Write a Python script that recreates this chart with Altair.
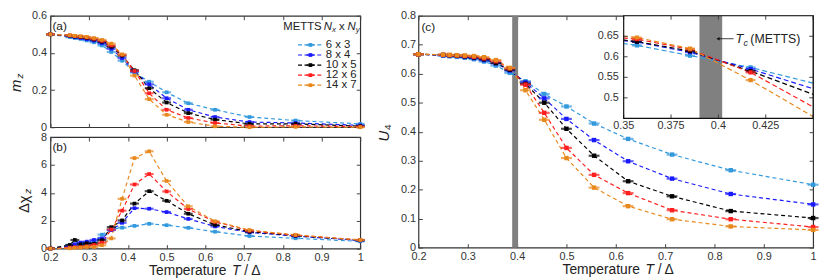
import altair as alt
import pandas as pd

FONT = "Liberation Sans"
TXT = "#222222"

# ---------------- data ----------------
T = [0.2, 0.25, 0.263, 0.278, 0.294, 0.3125, 0.333, 0.357, 0.385, 0.417,
     0.455, 0.5, 0.556, 0.625, 0.714, 0.833, 1.0]
SERIES = ["6 x 3", "8 x 4", "10 x 5", "12 x 6", "14 x 7"]
COLORS = ["#3399DD", "#1A1AFF", "#000000", "#FF1F1F", "#E8891E"]

mz_6x3 = [0.5, 0.485, 0.48, 0.475, 0.467, 0.457, 0.44, 0.405, 0.358, 0.295, 0.245, 0.188, 0.129, 0.094, 0.055, 0.036, 0.018]
mz_8x4 = [0.5, 0.49, 0.485, 0.48, 0.474, 0.466, 0.452, 0.422, 0.372, 0.3, 0.231, 0.156, 0.094, 0.055, 0.028, 0.023, 0.01]
mz_10x5 = [0.5, 0.493, 0.488, 0.485, 0.48, 0.472, 0.46, 0.433, 0.385, 0.307, 0.21, 0.133, 0.076, 0.041, 0.018, 0.018, 0.006]
mz_12x6 = [0.5, 0.494, 0.49, 0.487, 0.483, 0.476, 0.465, 0.44, 0.39, 0.303, 0.183, 0.094, 0.05, 0.023, 0.006, 0.008, 0.003]
mz_14x7 = [0.5, 0.495, 0.492, 0.49, 0.486, 0.48, 0.47, 0.45, 0.392, 0.278, 0.151, 0.067, 0.028, 0.005, 0.0, 0.002, 0.0]

dchi_6x3 = [0, 0.26, 0.3, 0.36, 0.26, 0.5, 1.0, 1.37, 1.5, 1.63, 1.78, 1.68, 1.49, 1.21, 0.9, 0.74, 0.52]
dchi_8x4 = [0, 0.17, 0.3, 0.43, 0.5, 0.62, 0.73, 1.33, 1.85, 2.9, 2.86, 2.62, 2.13, 1.59, 1.16, 0.9, 0.58]
dchi_10x5 = [0, 0.26, 0.62, 0.3, 0.38, 0.35, 0.6, 1.54, 2.02, 3.23, 4.12, 3.43, 2.5, 1.7, 1.21, 0.93, 0.6]
dchi_12x6 = [0, 0.07, 0.1, 0.1, 0.17, 0.26, 0.43, 1.37, 2.72, 4.6, 5.35, 4.1, 2.84, 1.92, 1.28, 0.96, 0.62]
dchi_14x7 = [0, 0.02, 0.05, 0.07, 0.12, 0.12, 0.24, 0.73, 3.57, 6.5, 6.98, 4.85, 3.03, 1.96, 1.33, 0.98, 0.62]

u4_6x3 = [0.667, 0.662, 0.66, 0.658, 0.655, 0.65, 0.642, 0.628, 0.603, 0.574, 0.53, 0.487, 0.428, 0.375, 0.321, 0.267, 0.217]
u4_8x4 = [0.667, 0.664, 0.663, 0.661, 0.658, 0.654, 0.647, 0.636, 0.611, 0.57, 0.515, 0.444, 0.371, 0.298, 0.238, 0.185, 0.149]
u4_10x5 = [0.667, 0.665, 0.664, 0.662, 0.66, 0.656, 0.65, 0.637, 0.614, 0.565, 0.5, 0.41, 0.317, 0.229, 0.177, 0.126, 0.102]
u4_12x6 = [0.667, 0.665, 0.664, 0.663, 0.661, 0.658, 0.653, 0.643, 0.618, 0.562, 0.465, 0.344, 0.251, 0.188, 0.129, 0.098, 0.071]
u4_14x7 = [0.667, 0.666, 0.665, 0.664, 0.663, 0.661, 0.657, 0.647, 0.62, 0.543, 0.441, 0.309, 0.207, 0.143, 0.098, 0.073, 0.061]

TC_BAND = [0.39, 0.402]

X_TICKS = [0.2, 0.3, 0.4, 0.5, 0.6, 0.7, 0.8, 0.9, 1.0]
YA_TICKS = [0, 0.2, 0.4, 0.6]
YB_TICKS = [0, 2, 4, 6, 8]
YC_TICKS = [0, 0.1, 0.2, 0.3, 0.4, 0.5, 0.6, 0.7, 0.8]
XI_TICKS = [0.35, 0.375, 0.4, 0.425, 0.45]
XI_LABELS = [0.35, 0.375, 0.4, 0.425]
YI_TICKS = [0.5, 0.55, 0.6, 0.65]


def long_df(cols):
    rows = []
    for s, vals in zip(SERIES, cols):
        for t, v in zip(T, vals):
            rows.append({"T": t, "v": v, "series": s})
    return pd.DataFrame(rows)


df_a = long_df([mz_6x3, mz_8x4, mz_10x5, mz_12x6, mz_14x7])
df_b = long_df([dchi_6x3, dchi_8x4, dchi_10x5, dchi_12x6, dchi_14x7])
df_c = long_df([u4_6x3, u4_8x4, u4_10x5, u4_12x6, u4_14x7])
band_df = pd.DataFrame({"lo": [TC_BAND[0]], "hi": [TC_BAND[1]]})
one = pd.DataFrame({"k": [0]})

COLOR = alt.Color("series:N", scale=alt.Scale(domain=SERIES, range=COLORS), legend=None)


def axis(orient, values, labels=True, fmt=None, lpad=4):
    kw = dict(orient=orient, values=values, labels=labels, offset=-4, tickSize=4,
              tickColor="#444444", tickWidth=1, domain=False, grid=False,
              labelFont=FONT, labelFontSize=11, labelColor="#333333",
              labelPadding=lpad, labelFlush=False, labelOverlap=False, title=None)
    if fmt:
        kw["format"] = fmt
    return alt.Axis(**kw)


def data_layers(df, xs, ys, xaxis, yaxis, clip=False, dash=(4, 3), tick=9, sq=14, filt=None):
    base = alt.Chart(df)
    if filt is not None:
        base = base.transform_filter(filt)
    lines = base.mark_line(strokeDash=list(dash), strokeWidth=1.2, clip=clip).encode(
        x=alt.X("T:Q", scale=xs, axis=xaxis), y=alt.Y("v:Q", scale=ys, axis=yaxis),
        color=COLOR, order=alt.Order("T:Q"))
    ticks = base.mark_tick(orient="horizontal", size=tick, thickness=2.2, clip=clip).encode(
        x=alt.X("T:Q", scale=xs, axis=None), y=alt.Y("v:Q", scale=ys, axis=None), color=COLOR)
    pts = base.mark_square(size=sq, opacity=1, clip=clip).encode(
        x=alt.X("T:Q", scale=xs, axis=None), y=alt.Y("v:Q", scale=ys, axis=None), color=COLOR)
    return [lines, ticks, pts]


def frame(df, xs, ys, xvals, yvals):
    return alt.Chart(df).mark_point(opacity=0, size=1).encode(
        x=alt.X("T:Q", scale=xs, axis=axis("top", xvals, labels=False)),
        y=alt.Y("v:Q", scale=ys, axis=axis("right", yvals, labels=False)))


def txt(text, x, y, size=11.5, italic=False, align="left", baseline="middle", angle=0):
    kw = dict(text=text, font=FONT, fontSize=size, align=align, baseline=baseline, color=TXT)
    if italic:
        kw["fontStyle"] = "italic"
    if angle:
        kw["angle"] = angle
    return alt.Chart(one).mark_text(**kw).encode(x=alt.value(x), y=alt.value(y))


def xtitle(cx, y):
    s = cx - 57
    return [txt("Temperature", s, y, 14), txt("T", s + 84, y, 14, italic=True),
            txt("/ Δ", s + 96.5, y, 14)]


XS = alt.Scale(domain=[0.2, 1.0], nice=False, zero=False)

# ---------------- panel (a) ----------------
ys_a = alt.Scale(domain=[0, 0.6], nice=False)
layers_a = data_layers(df_a, XS, ys_a, axis("bottom", X_TICKS, labels=False),
                       axis("left", YA_TICKS, fmt=".1~f"))
ly = alt.Y("series:N", scale=alt.Scale(domain=SERIES, range=[24.5, 75.5], padding=0), axis=None)
leg_df = pd.DataFrame({"series": SERIES})
legend = alt.layer(
    alt.Chart(leg_df).mark_rule(strokeDash=[4, 2.5], strokeWidth=1.2).encode(
        x=alt.value(251), x2=alt.value(276), y=ly, color=COLOR),
    alt.Chart(leg_df).mark_tick(orient="horizontal", size=8, thickness=2).encode(
        x=alt.value(263.5), y=ly, color=COLOR),
    alt.Chart(leg_df).mark_square(size=14, opacity=1).encode(
        x=alt.value(263.5), y=ly, color=COLOR),
    alt.Chart(leg_df).mark_text(align="left", baseline="middle", font=FONT, fontSize=11.5,
                                color=TXT).encode(x=alt.value(279), y=ly, text="series:N"),
)
panel_a = alt.layer(
    alt.layer(*layers_a, frame(df_a, XS, ys_a, X_TICKS, YA_TICKS),
              txt("(a)", 2, 10, 12),
              txt("m", -35, 71, 15, italic=True, align="center", angle=270),
              txt("z", -31, 61, 10, italic=True, align="center", angle=270),
              txt("METTS", 236, 11, 11.5),
              txt("N", 277, 11, 11.5, italic=True),
              txt("x", 285.5, 14, 8, italic=True),
              txt("x", 292.5, 11, 11.5),
              txt("N", 301, 11, 11.5, italic=True),
              txt("y", 309.5, 14, 8, italic=True)),
    legend,
).resolve_scale(y="independent").properties(width=314, height=113)

# ---------------- panel (b) ----------------
ys_b = alt.Scale(domain=[0, 8], nice=False)
layers_b = data_layers(df_b, XS, ys_b,
                       axis("bottom", X_TICKS, fmt=".1~f", lpad=3),
                       axis("left", YB_TICKS, fmt="d"))
panel_b = alt.layer(
    *layers_b, frame(df_b, XS, ys_b, X_TICKS, YB_TICKS),
    txt("(b)", 2, 10, 12),
    txt("Δχ", -27, 68, 15, align="center", angle=270),
    txt("z", -23, 55, 10, italic=True, align="center", angle=270),
    *xtitle(157, 136),
).properties(width=314, height=113)

left_col = alt.vconcat(panel_a, panel_b, spacing=-3)

# ---------------- panel (c) main ----------------
ys_c = alt.Scale(domain=[0, 0.8], nice=False)
layers_c = data_layers(df_c, XS, ys_c,
                       axis("bottom", X_TICKS, fmt=".1~f", lpad=3),
                       axis("left", YC_TICKS, fmt=".1~f", lpad=3), tick=11, sq=20)
band_c = alt.Chart(band_df).mark_rect(color="#808080").encode(
    x=alt.X("lo:Q", scale=XS, axis=None), x2="hi:Q", y=alt.value(0), y2=alt.value(235))
main_group = alt.layer(
    band_c, *layers_c,
    frame(df_c, XS, ys_c, [0.2, 0.3, 0.4, 0.5, 0.6], [0, 0.1, 0.2, 0.3, 0.4]),
    txt("(c)", 3, 11, 12),
    txt("U", -35, 122, 15, italic=True, align="center", angle=270),
    txt("4", -31, 113, 10, align="center", angle=270),
    *xtitle(203, 258),
)

# ---------------- inset (drawn inside panel c through its own scales) ----------------
XS_I = alt.Scale(domain=[0.35, 0.45], range=[208, 400], nice=False, zero=False)
YS_I = alt.Scale(domain=[0.45, 0.7], range=[104, 0], nice=False, zero=False)
in_range = (alt.datum.T >= 0.33) & (alt.datum.T <= 0.46)


def ibox(fill, stroke=None):
    kw = dict(fill=fill)
    if stroke:
        kw.update(stroke=stroke, strokeWidth=1.2)
    return alt.Chart(one).mark_rect(**kw).encode(
        x=alt.datum(0.35, scale=XS_I, axis=None), x2=alt.datum(0.45),
        y=alt.datum(0.45, scale=YS_I, axis=None), y2=alt.datum(0.7))


layers_i = data_layers(df_c, XS_I, YS_I, None, None, clip=True, dash=(5, 3),
                       tick=10, sq=18, filt=in_range)
band_i = alt.Chart(band_df).mark_rect(color="#808080").encode(
    x=alt.X("lo:Q", scale=XS_I, axis=None), x2="hi:Q",
    y=alt.datum(0.45, scale=YS_I, axis=None), y2=alt.datum(0.7))
cover = alt.Chart(one).mark_rect(fill="white").encode(
    x=alt.value(160), x2=alt.value(207.4), y=alt.value(8), y2=alt.value(34))

xi_df = pd.DataFrame({"t": XI_TICKS})
xl_df = pd.DataFrame({"t": XI_LABELS})
yi_df = pd.DataFrame({"u": YI_TICKS})
tick_kw = dict(color="#444444", strokeWidth=1)
i_ticks = [
    alt.Chart(xi_df).mark_rule(**tick_kw).encode(
        x=alt.X("t:Q", scale=XS_I, axis=None), y=alt.value(100), y2=alt.value(104)),
    alt.Chart(xi_df).mark_rule(**tick_kw).encode(
        x=alt.X("t:Q", scale=XS_I, axis=None), y=alt.value(0), y2=alt.value(4)),
    alt.Chart(yi_df).mark_rule(**tick_kw).encode(
        y=alt.Y("u:Q", scale=YS_I, axis=None), x=alt.value(208), x2=alt.value(212)),
    alt.Chart(yi_df).mark_rule(**tick_kw).encode(
        y=alt.Y("u:Q", scale=YS_I, axis=None), x=alt.value(396), x2=alt.value(400)),
]
i_labels = [
    alt.Chart(xl_df).mark_text(font=FONT, fontSize=11, color="#333333", baseline="middle").encode(
        x=alt.X("t:Q", scale=XS_I, axis=None), y=alt.value(112),
        text=alt.Text("t:Q", format=".3~f")),
    alt.Chart(yi_df).mark_text(font=FONT, fontSize=11, color="#333333", align="right",
                               baseline="middle").encode(
        y=alt.Y("u:Q", scale=YS_I, axis=None), x=alt.value(203),
        text=alt.Text("u:Q", format=".2~f")),
]

arrow_line = alt.Chart(one).mark_rule(color="#111111", strokeWidth=0.8).encode(
    x=alt.datum(0.3995, scale=XS_I, axis=None), x2=alt.datum(0.408),
    y=alt.datum(0.644, scale=YS_I, axis=None))
arrow_head = alt.Chart(one).mark_point(shape="triangle-left", filled=True, size=14,
                                       color="#111111", opacity=1).encode(
    x=alt.datum(0.3998, scale=XS_I, axis=None), y=alt.datum(0.644, scale=YS_I, axis=None))


def itxt(text, size, dx, dy, italic=False):
    kw = dict(text=text, font=FONT, fontSize=size, align="left", baseline="middle",
              color=TXT, dx=dx, dy=dy)
    if italic:
        kw["fontStyle"] = "italic"
    return alt.Chart(one).mark_text(**kw).encode(
        x=alt.datum(0.4085, scale=XS_I, axis=None), y=alt.datum(0.644, scale=YS_I, axis=None))


inset_group = alt.layer(
    ibox("white"), band_i, *layers_i, cover,
    *i_ticks, *i_labels,
    arrow_line, arrow_head,
    itxt("T", 13, 1, 0, italic=True), itxt("c", 9, 9, 4, italic=True),
    itxt("(METTS)", 12.5, 16, 0),
    ibox("transparent", stroke="#111111"),
)

panel_c = alt.layer(main_group, inset_group).resolve_scale(
    x="independent", y="independent").properties(width=400, height=235)

chart = alt.hconcat(left_col, panel_c, spacing=10).properties(
    padding={"left": 0, "top": -1, "right": 2, "bottom": 0}
).configure_view(stroke="#333333", strokeWidth=1.2)

chart.save("out.html", embed_options={"renderer": "svg", "actions": False})
